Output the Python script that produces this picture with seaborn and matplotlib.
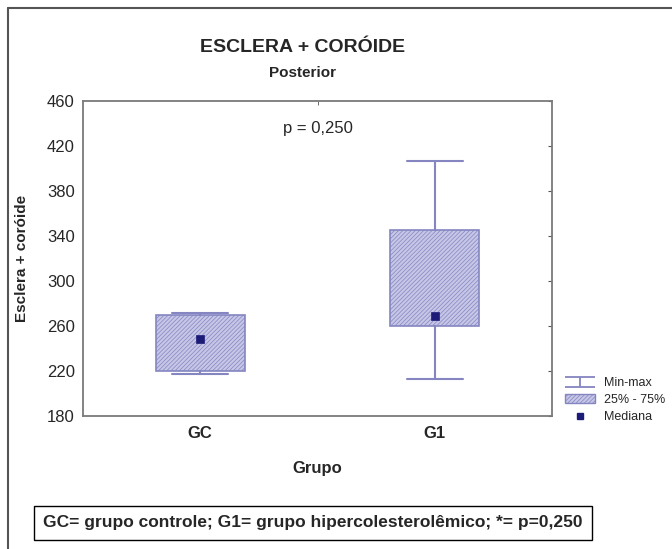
import matplotlib
matplotlib.use("Agg")
import matplotlib.pyplot as plt
import seaborn as sns
import pandas as pd
from matplotlib.lines import Line2D
from matplotlib.patches import Patch
from matplotlib.path import Path

# dados (escala em unidades do eixo y)
grupos = ["GC", "G1"]
minimo = [217.6, 212.6]
q1 = [220.3, 260.0]
mediana = [248.4, 268.7]
q3 = [269.5, 345.3]
maximo = [271.8, 406.7]
yticks = [180, 220, 260, 300, 340, 380, 420, 460]

sns.set_style("white")
plt.rcParams["font.family"] = ["Liberation Sans", "DejaVu Sans"]
plt.rcParams["hatch.linewidth"] = 0.5

cor_borda = "#8585c2"
cor_caixa = "#c6c6e6"
cor_mediana = "#1c1c78"

fig = plt.figure(figsize=(6.72, 5.49), dpi=100)
ax = fig.add_axes([83 / 672, 1 - 416 / 549, 469 / 672, 315 / 549])

stats = []
for i, g in enumerate(grupos):
    stats.append(dict(label=g, whislo=minimo[i], q1=q1[i], med=mediana[i],
                      q3=q3[i], whishi=maximo[i], fliers=[]))

ax.bxp(stats, positions=[0, 1], widths=0.38, capwidths=0.24, patch_artist=True,
       showfliers=False,
       boxprops=dict(facecolor=cor_caixa, edgecolor=cor_borda, hatch="////////", linewidth=1.2),
       whiskerprops=dict(color=cor_borda, linewidth=1.5),
       capprops=dict(color=cor_borda, linewidth=1.5),
       medianprops=dict(linewidth=0))

df = pd.DataFrame({"Grupo": [0, 1], "Mediana": mediana})
sns.scatterplot(data=df, x="Grupo", y="Mediana", marker="s", s=38,
                color=cor_mediana, edgecolor=cor_mediana, ax=ax, zorder=5, legend=False)

ax.set_xlim(-0.5, 1.5)
ax.set_ylim(180, 460)
ax.set_yticks(yticks)
ax.set_yticklabels([str(v) for v in yticks], fontsize=12)
ax.set_xticks([0, 1])
ax.set_xticklabels(grupos, fontsize=12, fontweight="bold")
ax.set_xticks([0.5], minor=True)
ax.tick_params(axis="x", which="major", length=0, pad=7)
ax.tick_params(axis="x", which="minor", direction="in", length=3, top=True, color="#555555")
ax.tick_params(axis="y", direction="in", length=3, right=True, pad=6, color="#555555")
for s in ax.spines.values():
    s.set_color("#7a7a7a")
    s.set_linewidth(1.3)

ax.set_xlabel("Grupo", fontsize=12, fontweight="bold")
ax.xaxis.set_label_coords(0.5, -0.143)
ax.set_ylabel("Esclera + coróide", fontsize=11, fontweight="bold")
ax.yaxis.set_label_coords(-0.115, 0.5)

ax.text(0.5, 436, "p = 0,250", ha="center", va="center", fontsize=12)

fig.text(303 / 672, 1 - 48 / 549, "ESCLERA + CORÓIDE", ha="center", va="center",
         fontsize=14, fontweight="bold")
fig.text(303 / 672, 1 - 73 / 549, "Posterior", ha="center", va="center",
         fontsize=11, fontweight="bold")

# legenda
simbolo = Path([(-1, 0.35), (1, 0.35), (0, 0.35), (0, -0.35), (-1, -0.35), (1, -0.35)],
               [Path.MOVETO, Path.LINETO, Path.MOVETO, Path.LINETO, Path.MOVETO, Path.LINETO])
handles = [
    Line2D([], [], linestyle="none", marker=simbolo, markersize=22, fillstyle="none",
           markeredgecolor=cor_borda, markeredgewidth=1.3),
    Patch(facecolor=cor_caixa, edgecolor=cor_borda, hatch="////////"),
    Line2D([], [], linestyle="none", marker="s", markersize=5, color=cor_mediana),
]
fig.legend(handles, ["Min-max", "25% - 75%", "Mediana"], loc="upper left",
           bbox_to_anchor=(560 / 672, 1 - 372 / 549), frameon=False, fontsize=9,
           handlelength=2.4, handletextpad=0.7, labelspacing=0.4, borderaxespad=0)

fig.text(313 / 672, 1 - 523 / 549,
         "GC= grupo controle; G1= grupo hipercolesterolêmico; *= p=0,250",
         ha="center", va="center", fontsize=12.5, fontweight="bold",
         bbox=dict(boxstyle="square,pad=0.55", facecolor="white", edgecolor="black", linewidth=1))

# moldura externa
fig.add_artist(Line2D([8 / 672, 1], [1 - 8 / 549, 1 - 8 / 549], color="#555555", linewidth=1.5))
fig.add_artist(Line2D([8 / 672, 8 / 672], [0, 1 - 8 / 549], color="#555555", linewidth=1.5))

fig.savefig("out.png", dpi=100)
